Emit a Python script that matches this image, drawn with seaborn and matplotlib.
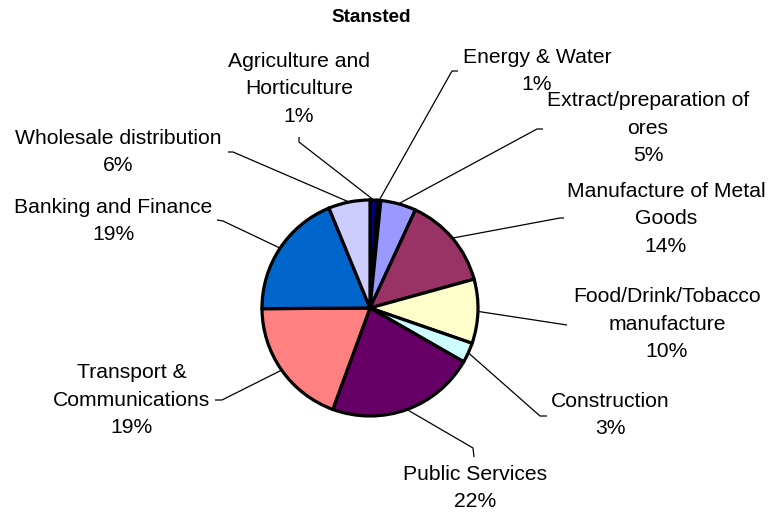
import matplotlib
matplotlib.use("Agg")
import matplotlib.pyplot as plt
import seaborn as sns
import numpy as np

# ---- data ----
sectors = ["Agriculture and\nHorticulture", "Energy & Water", "Extract/preparation of\nores",
           "Manufacture of Metal\nGoods", "Food/Drink/Tobacco\nmanufacture", "Construction",
           "Public Services", "Transport &\nCommunications", "Banking and Finance",
           "Wholesale distribution"]
shares = [1.1, 0.5, 5.3, 13.8, 9.6, 3.0, 22.3, 19.3, 18.9, 6.2]
pct_labels = [1, 1, 5, 14, 10, 3, 22, 19, 19, 6]
colors = ["#000080", "#FF00FF", "#9999FF", "#993366", "#FFFFCC", "#CCFFFF",
          "#660066", "#FF8080", "#0066CC", "#CCCCFF"]
title = "Stansted"

# ---- layout (pixel coordinates, y from top) ----
W, H = 772, 515
CX, CY, R = 370, 308, 108
text_pos = [(299, 89), (537, 71), (648, 128), (666, 219), (667, 324),
            (610, 415), (475, 488), (132, 400), (113, 221), (118, 152)]
leader_ends = [[(299, 142), (299, 137)], [(452, 71), (458, 71)], [(537, 129), (543, 129)],
               [(560, 218), (564, 218)], [(567, 325)], [(540, 416), (547, 416)],
               [(473, 448), (474, 457)], [(222, 400), (215, 400)], [(223, 221), (217, 220)],
               [(233, 152), (228, 152)]]

sns.set_theme(style="white")
plt.rcParams['font.family'] = ['Liberation Sans', 'DejaVu Sans']

def P(x, y):
    return x, H - y

fig = plt.figure(figsize=(W / 100, H / 100), dpi=100)
ax = fig.add_axes([0, 0, 1, 1])
ax.pie(shares, colors=colors, startangle=90, counterclock=False,
       center=P(CX, CY), radius=R,
       wedgeprops=dict(edgecolor="black", linewidth=2.3, zorder=3))
ax.set_xlim(0, W)
ax.set_ylim(0, H)
ax.set_aspect("equal")
ax.axis("off")

total = sum(shares)
cum = 0.0
for i, (name, v, pct) in enumerate(zip(sectors, shares, pct_labels)):
    mid = 90 - 360 * (cum + v / 2) / total
    cum += v
    sx = CX + R * np.cos(np.radians(mid))
    sy = CY - R * np.sin(np.radians(mid))
    pts = [(sx, sy)] + leader_ends[i]
    xs = [p[0] for p in pts]
    ys = [H - p[1] for p in pts]
    ax.plot(xs, ys, color="black", lw=0.9, zorder=1, solid_capstyle="butt")
    tx, ty = text_pos[i]
    ax.text(*P(tx, ty), f"{name}\n{pct}%", ha="center", va="center",
            multialignment="center", fontsize=15.2, linespacing=1.55, color="black")

ax.text(*P(371, 18), title, ha="center", va="center", fontsize=13.6,
        fontweight="bold", color="black")

fig.savefig("out.png", dpi=100, facecolor="white")
